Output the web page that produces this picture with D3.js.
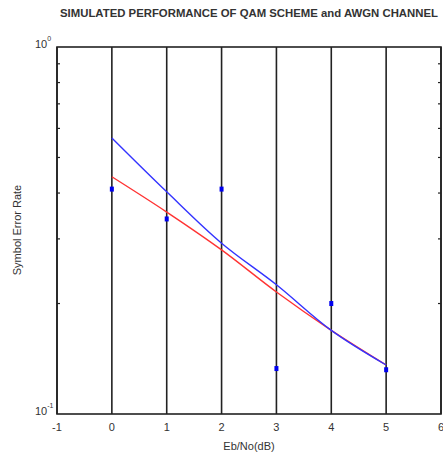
<!DOCTYPE html>
<html>
<head>
<meta charset="utf-8">
<script src="https://cdn.jsdelivr.net/npm/d3@7"></script>
<style>
  body { margin: 0; background: #fff; }
  svg text { font-family: "Liberation Sans Narrow", "Liberation Sans", Arial, sans-serif; fill: #333; }
</style>
</head>
<body>
<div id="chart"></div>
<script>
// Eb/No points (dB)
var ebno = [0, 1, 2, 3, 4, 5];
// simulated symbol error rate (markers)
var simSer = [0.41, 0.34, 0.41, 0.133, 0.2, 0.132];
// theoretical curves
var blueSer = [0.565, 0.403, 0.292, 0.225, 0.169, 0.136];
var redSer = [0.443, 0.355, 0.280, 0.215, 0.169, 0.136];
var xTicks = [-1, 0, 1, 2, 3, 4, 5, 6];
var yMinor = [0.2, 0.3, 0.4, 0.5, 0.6, 0.7, 0.8, 0.9];

(function() {
  var W = 443, H = 453;
  var left = 57, right = 441, top = 47, bottom = 414;

  var svg = d3.select('#chart').append('svg')
    .attr('width', W).attr('height', H);

  var x = d3.scaleLinear().domain([-1, 6]).range([left, right]);
  var y = d3.scaleLog().domain([0.1, 1]).range([bottom, top]);

  // Vertical grid lines at each x tick
  svg.append('g').selectAll('line')
    .data(xTicks)
    .join('line')
    .attr('x1', function(d) { return x(d); })
    .attr('x2', function(d) { return x(d); })
    .attr('y1', top).attr('y2', bottom)
    .attr('stroke', '#222')
    .attr('stroke-width', 1.6);

  // inner tick marks on left and right
  var tickG = svg.append('g').attr('stroke', '#222').attr('stroke-width', 1.2);
  tickG.selectAll('.yl').data(yMinor).join('line')
    .attr('x1', left).attr('x2', left + 3)
    .attr('y1', function(d) { return y(d); })
    .attr('y2', function(d) { return y(d); });
  tickG.selectAll('.yr').data(yMinor).join('line')
    .attr('x1', right - 3).attr('x2', right)
    .attr('y1', function(d) { return y(d); })
    .attr('y2', function(d) { return y(d); });

  // frame
  svg.append('rect')
    .attr('x', left).attr('y', top)
    .attr('width', right - left).attr('height', bottom - top)
    .attr('fill', 'none')
    .attr('stroke', '#222')
    .attr('stroke-width', 1.6);

  // x tick labels
  svg.append('g').selectAll('text')
    .data(xTicks)
    .join('text')
    .attr('x', function(d) { return x(d); })
    .attr('y', 431)
    .attr('text-anchor', 'middle')
    .attr('font-size', 11)
    .text(function(d) { return d; });

  // y decade labels
  var decades = [{ v: 1, e: '0' }, { v: 0.1, e: '-1' }];
  decades.forEach(function(d) {
    var t = svg.append('text')
      .attr('x', 35).attr('y', y(d.v) + 1)
      .attr('font-size', 11);
    t.append('tspan').text('10');
    t.append('tspan').attr('dy', -7).attr('font-size', 7).text(d.e);
  });

  var line = d3.line()
    .x(function(d, i) { return x(ebno[i]); })
    .y(function(d) { return y(d); })
    .curve(d3.curveCatmullRom);

  svg.append('path').datum(redSer)
    .attr('d', line)
    .attr('fill', 'none')
    .attr('stroke', '#ff3333')
    .attr('stroke-width', 1.4);

  svg.append('path').datum(blueSer)
    .attr('d', line)
    .attr('fill', 'none')
    .attr('stroke', '#3333ff')
    .attr('stroke-width', 1.4);

  // simulated markers
  svg.append('g').selectAll('rect')
    .data(simSer)
    .join('rect')
    .attr('x', function(d, i) { return x(ebno[i]) - 2; })
    .attr('y', function(d) { return y(d) - 2.5; })
    .attr('width', 4).attr('height', 5)
    .attr('fill', '#0000ee');

  // title
  svg.append('text')
    .attr('x', 60).attr('y', 17)
    .attr('font-size', 11)
    .attr('font-weight', 'bold')
    .attr('textLength', 378)
    .attr('lengthAdjust', 'spacingAndGlyphs')
    .text('SIMULATED PERFORMANCE OF QAM SCHEME and AWGN CHANNEL');

  // axis labels
  svg.append('text')
    .attr('x', 249).attr('y', 450)
    .attr('text-anchor', 'middle')
    .attr('font-size', 11)
    .text('Eb/No(dB)');

  svg.append('text')
    .attr('transform', 'translate(21,230) rotate(-90)')
    .attr('text-anchor', 'middle')
    .attr('font-size', 11)
    .text('Symbol Error Rate');
})();
</script>
</body>
</html>
